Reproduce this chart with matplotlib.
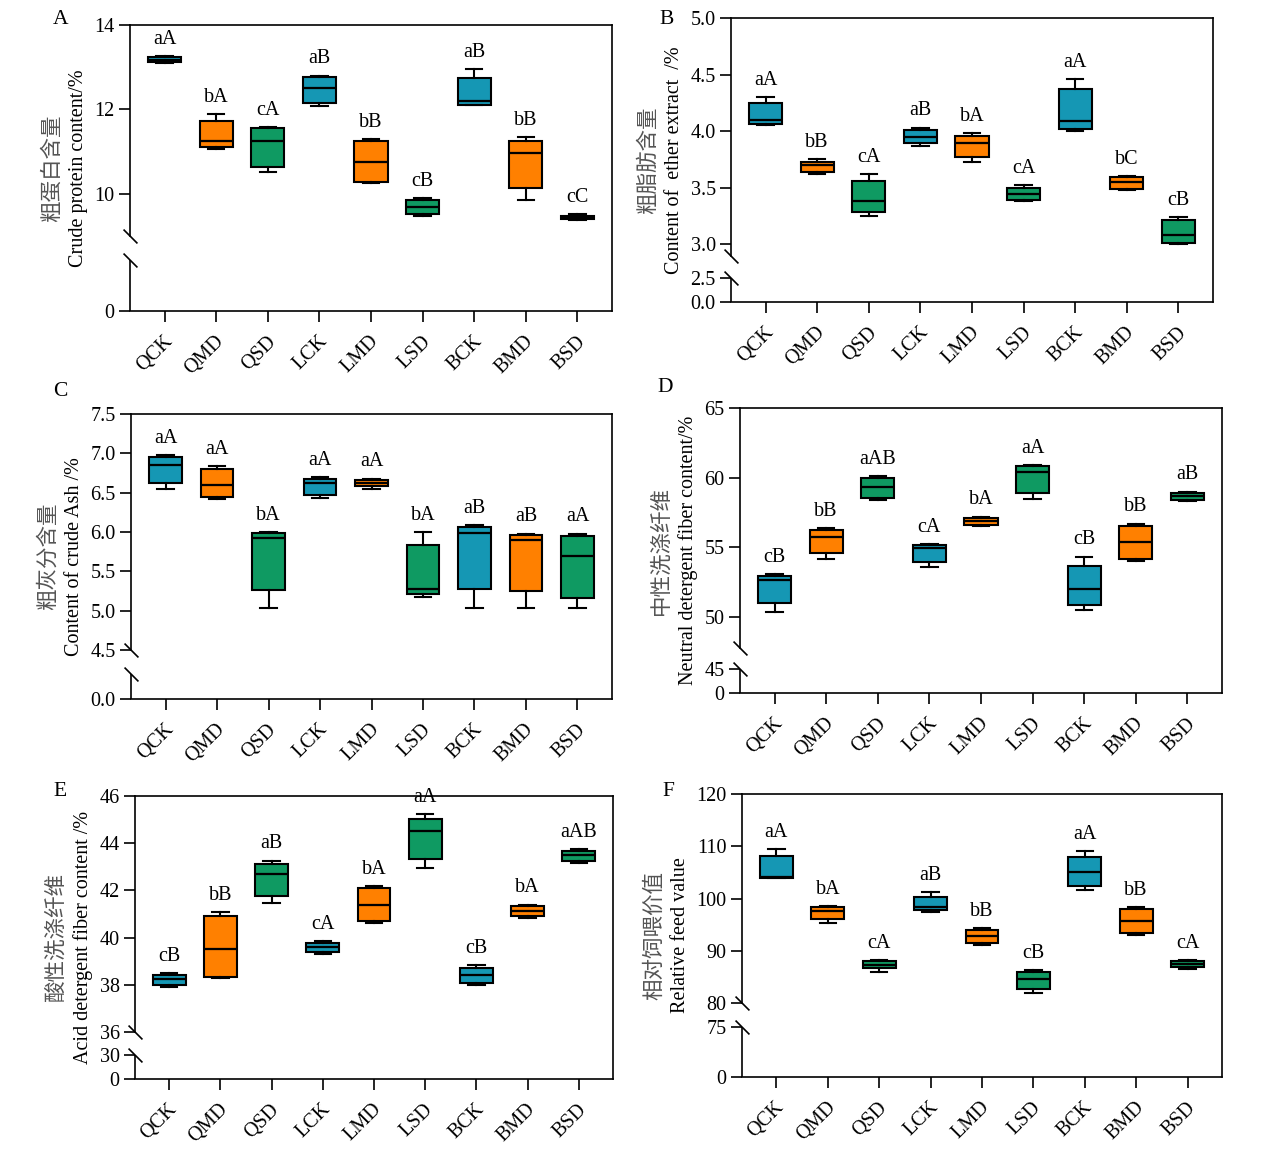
import numpy as np
import matplotlib
matplotlib.use('Agg')
import matplotlib.pyplot as plt
import matplotlib.transforms as mtransforms

plt.rcParams['font.family'] = ['Liberation Serif', 'Noto Sans CJK SC', 'DejaVu Sans']
plt.rcParams['axes.unicode_minus'] = False

groups = ['QCK', 'QMD', 'QSD', 'LCK', 'LMD', 'LSD', 'BCK', 'BMD', 'BSD']
colors = ['#1597b4', '#ff8000', '#0f9a62', '#1597b4', '#ff8000', '#0f9a62',
          '#1597b4', '#ff8000', '#0f9a62']

# ---------------- Panel A: crude protein ----------------
a_lo  = [13.09, 11.05, 10.51, 12.07, 10.26, 9.48, 12.10, 9.86, 9.37]
a_q1  = [13.13, 11.12, 10.64, 12.14, 10.28, 9.53, 12.11, 10.13, 9.41]
a_med = [13.18, 11.25, 11.25, 12.51, 10.75, 9.69, 12.19, 10.96, 9.45]
a_q3  = [13.23, 11.72, 11.56, 12.76, 11.25, 9.85, 12.75, 11.24, 9.48]
a_hi  = [13.27, 11.88, 11.58, 12.80, 11.29, 9.90, 12.95, 11.35, 9.51]
a_let = ['aA', 'bA', 'cA', 'aB', 'bB', 'cB', 'aB', 'bB', 'cC']

# ---------------- Panel B: ether extract ----------------
b_lo  = [4.05, 3.62, 3.25, 3.87, 3.73, 3.38, 4.00, 3.48, 3.00]
b_q1  = [4.06, 3.64, 3.28, 3.89, 3.77, 3.39, 4.02, 3.49, 3.01]
b_med = [4.10, 3.70, 3.38, 3.95, 3.89, 3.44, 4.09, 3.55, 3.08]
b_q3  = [4.25, 3.73, 3.56, 4.01, 3.96, 3.50, 4.37, 3.59, 3.21]
b_hi  = [4.30, 3.75, 3.62, 4.03, 3.98, 3.52, 4.46, 3.60, 3.24]
b_let = ['aA', 'bB', 'cA', 'aB', 'bA', 'cA', 'aA', 'bC', 'cB']

# ---------------- Panel C: crude ash ----------------
c_lo  = [6.55, 6.42, 5.03, 6.43, 6.55, 5.18, 5.03, 5.03, 5.03]
c_q1  = [6.62, 6.45, 5.26, 6.47, 6.58, 5.21, 5.28, 5.25, 5.16]
c_med = [6.85, 6.60, 5.93, 6.62, 6.62, 5.28, 5.99, 5.90, 5.69]
c_q3  = [6.95, 6.80, 5.99, 6.68, 6.66, 5.83, 6.06, 5.96, 5.95]
c_hi  = [6.98, 6.84, 6.00, 6.70, 6.68, 6.00, 6.09, 5.98, 5.98]
c_let = ['aA', 'aA', 'bA', 'aA', 'aA', 'bA', 'aB', 'aB', 'aA']

# ---------------- Panel D: NDF ----------------
d_lo  = [50.36, 54.16, 58.40, 53.59, 56.51, 58.44, 50.53, 53.99, 58.30]
d_q1  = [50.98, 54.57, 58.56, 53.92, 56.60, 58.90, 50.89, 54.16, 58.42]
d_med = [52.66, 55.74, 59.31, 54.93, 56.87, 60.41, 51.99, 55.36, 58.66]
d_q3  = [52.94, 56.22, 59.98, 55.14, 57.13, 60.84, 53.66, 56.56, 58.90]
d_hi  = [53.09, 56.39, 60.10, 55.22, 57.20, 60.93, 54.33, 56.70, 59.00]
d_let = ['cB', 'bB', 'aAB', 'cA', 'bA', 'aA', 'cB', 'bB', 'aB']

# ---------------- Panel E: ADF ----------------
e_lo  = [37.91, 38.28, 41.46, 39.30, 40.61, 42.95, 38.00, 40.85, 43.15]
e_q1  = [38.01, 38.34, 41.77, 39.38, 40.72, 43.35, 38.07, 40.91, 43.26]
e_med = [38.23, 39.53, 42.71, 39.59, 41.40, 44.50, 38.41, 41.11, 43.48]
e_q3  = [38.41, 40.92, 43.11, 39.79, 42.11, 45.04, 38.72, 41.32, 43.67]
e_hi  = [38.50, 41.08, 43.26, 39.86, 42.17, 45.22, 38.82, 41.40, 43.76]
e_let = ['cB', 'bB', 'aB', 'cA', 'bA', 'aA', 'cB', 'bA', 'aAB']

# ---------------- Panel F: relative feed value ----------------
f_lo  = [103.9, 95.29, 85.92, 97.39, 91.15, 81.97, 101.66, 92.93, 86.50]
f_q1  = [104.0, 95.99, 86.62, 97.71, 91.46, 82.61, 102.48, 93.31, 86.94]
f_med = [104.1, 97.64, 87.32, 98.34, 92.74, 84.59, 105.16, 95.61, 87.45]
f_q3  = [108.09, 98.28, 87.96, 100.38, 93.95, 85.92, 108.03, 97.90, 87.96]
f_hi  = [109.43, 98.60, 88.15, 101.21, 94.27, 86.31, 109.11, 98.41, 88.28]
f_let = ['aA', 'bA', 'cA', 'aB', 'bB', 'cB', 'aA', 'bB', 'cA']

# y labels
a_cn, a_en = '粗蛋白含量', 'Crude protein content/%'
b_cn, b_en = '粗脂肪含量', 'Content of  ether extract  /%'
c_cn, c_en = '粗灰分含量', 'Content of crude Ash /%'
d_cn, d_en = '中性洗涤纤维', 'Neutral detergent fiber content/%'
e_cn, e_en = '酸性洗涤纤维', 'Acid detergent fiber content /%'
f_cn, f_en = '相对饲喂价值', 'Relative feed value'

a_ticks = [0, 10, 12, 14]
b_ticks = [0.0, 2.5, 3.0, 3.5, 4.0, 4.5, 5.0]
c_ticks = [0.0, 4.5, 5.0, 5.5, 6.0, 6.5, 7.0, 7.5]
d_ticks = [0, 45, 50, 55, 60, 65]
e_ticks = [0, 30, 36, 38, 40, 42, 44, 46]
f_ticks = [0, 75, 80, 90, 100, 110, 120]

W, H = 1270, 1171
fig = plt.figure(figsize=(W / 100, H / 100), dpi=100)

# layout: rect px (l, r, t, b); break: (lower_top value, lower_top px,
# upper_bottom value, upper_bottom px, top value)
panels = [
    dict(letter='A', rect=(130, 612, 25, 311), brk=(1.0, 51, 9.0, 75, 14.0),
         data=(a_lo, a_q1, a_med, a_q3, a_hi), let=a_let, ticks=a_ticks, fmt='{:.0f}',
         cn=a_cn, en=a_en, lpos=(61, 19)),
    dict(letter='B', rect=(731, 1213, 18, 302), brk=(2.5, 24, 2.894, 46, 5.0),
         data=(b_lo, b_q1, b_med, b_q3, b_hi), let=b_let, ticks=b_ticks, fmt='{:.1f}',
         cn=b_cn, en=b_en, lpos=(667, 19)),
    dict(letter='C', rect=(131, 612, 414, 699), brk=(1.0, 25, 4.5, 49, 7.5),
         data=(c_lo, c_q1, c_med, c_q3, c_hi), let=c_let, ticks=c_ticks, fmt='{:.1f}',
         cn=c_cn, en=c_en, lpos=(60, 391)),
    dict(letter='D', rect=(740, 1222, 408, 693), brk=(45.0, 24, 47.77, 45, 65.0),
         data=(d_lo, d_q1, d_med, d_q3, d_hi), let=d_let, ticks=d_ticks, fmt='{:.0f}',
         cn=d_cn, en=d_en, lpos=(665, 388)),
    dict(letter='E', rect=(135, 613, 796, 1079), brk=(30.0, 24, 36.0, 47, 46.0),
         data=(e_lo, e_q1, e_med, e_q3, e_hi), let=e_let, ticks=e_ticks, fmt='{:.0f}',
         cn=e_cn, en=e_en, lpos=(60, 791)),
    dict(letter='F', rect=(742, 1222, 794, 1077), brk=(75.0, 50, 80.0, 74, 120.0),
         data=(f_lo, f_q1, f_med, f_q3, f_hi), let=f_let, ticks=f_ticks, fmt='{:.0f}',
         cn=f_cn, en=f_en, lpos=(668, 791)),
]


def make_scale(lt, lp, ub, up, top, Hp):
    xs = np.array([0.0, lt, ub, top])
    ps = np.array([0.0, lp, up, Hp])
    s_lo = lp / lt
    s_hi = (Hp - up) / (top - ub)

    def fwd(v):
        v = np.asarray(v, dtype=float)
        out = np.interp(v, xs, ps)
        out = np.where(v < 0, v * s_lo, out)
        out = np.where(v > top, Hp + (v - top) * s_hi, out)
        return out

    def inv(p):
        p = np.asarray(p, dtype=float)
        out = np.interp(p, ps, xs)
        out = np.where(p < 0, p / s_lo, out)
        out = np.where(p > Hp, top + (p - Hp) / s_hi, out)
        return out
    return fwd, inv


LW = 1.2
FS = 14.5
pos = np.arange(1, len(groups) + 1)
xshift = mtransforms.ScaledTranslation(5 / 100, 0, fig.dpi_scale_trans)

for P in panels:
    l, r, t, b = P['rect']
    ax = fig.add_axes([l / W, 1 - b / H, (r - l) / W, (b - t) / H])
    lt, lp, ub, up, top = P['brk']
    Hp = b - t
    fwd, inv = make_scale(lt, lp, ub, up, top, Hp)
    ax.set_yscale('function', functions=(fwd, inv))
    ax.set_ylim(0, top)
    ax.set_xlim(0.33, len(groups) + 0.67)

    lo, q1, med, q3, hi = P['data']
    stats = [dict(whislo=lo[i], q1=q1[i], med=med[i], q3=q3[i], whishi=hi[i], fliers=[])
             for i in range(len(groups))]
    bp = ax.bxp(stats, positions=pos, widths=0.64, patch_artist=True, showfliers=False,
                boxprops=dict(edgecolor='black', linewidth=LW * 1.25),
                medianprops=dict(color='black', linewidth=LW * 1.35),
                whiskerprops=dict(color='black', linewidth=LW * 1.25),
                capprops=dict(color='black', linewidth=LW * 1.25))
    for patch, c in zip(bp['boxes'], colors):
        patch.set_facecolor(c)

    for i, lab in enumerate(P['let']):
        ax.annotate(lab, (pos[i], hi[i]), xytext=(0, 12), textcoords='offset points',
                    ha='center', va='center', fontsize=FS)

    # axes styling
    for s in ax.spines.values():
        s.set_linewidth(LW)
    ax.spines['left'].set_bounds(ub, top)
    ytr = ax.get_yaxis_transform()
    ax.plot([0, 0], [0, lt], transform=ytr, color='black', lw=LW, clip_on=False,
            solid_capstyle='butt')
    ax.plot([0, 0], [ub, lt], transform=ytr, linestyle='none', marker=[(-1, 1), (1, -1)],
            markersize=10, mew=LW, color='black', clip_on=False)

    ax.set_yticks(P['ticks'])
    ax.set_yticklabels([P['fmt'].format(v) for v in P['ticks']])
    ax.set_xticks(pos)
    ax.set_xticklabels(groups, rotation=45, ha='right', va='center', rotation_mode='anchor')
    ax.tick_params(axis='both', direction='out', length=8, width=LW, labelsize=FS, pad=3)
    ax.tick_params(axis='x', pad=12)
    ax.minorticks_off()
    for tl in ax.get_xticklabels():
        tl.set_transform(tl.get_transform() + xshift)

    ax.set_ylabel(P['en'], fontsize=FS, labelpad=5)
    ax.annotate(P['cn'], xy=(0, 0.5), xycoords=ax.yaxis.label, xytext=(-12, 0),
                textcoords='offset points', rotation=90, ha='center', va='center',
                fontsize=15.5, color='#555555', family=['Noto Sans CJK SC', 'DejaVu Sans'])

    lx, ly = P['lpos']
    fig.text(lx / W, 1 - ly / H, P['letter'], fontsize=15.5, ha='center', va='center')

fig.savefig('out.png', dpi=100)
